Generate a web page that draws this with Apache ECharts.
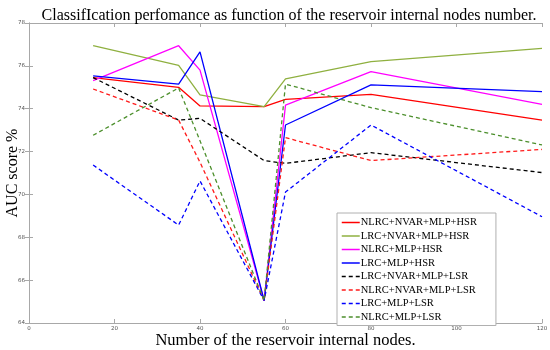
<!DOCTYPE html>
<html>
<head>
<meta charset="utf-8">
<script src="https://cdn.jsdelivr.net/npm/echarts@6/dist/echarts.min.js"></script>
<style>
html,body{margin:0;padding:0;background:#fff;}
#chart{width:550px;height:350px;}
</style>
</head>
<body>
<div id="chart"></div>
<script>
var xNodes = [15, 35, 40, 55, 60, 80, 120];
var xTicks = [0, 20, 40, 60, 80, 100, 120];
var yTicks = [64, 66, 68, 70, 72, 74, 76, 78];

var seriesNames = [
  'NLRC+NVAR+MLP+HSR',
  'LRC+NVAR+MLP+HSR',
  'NLRC+MLP+HSR',
  'LRC+MLP+HSR',
  'LRC+NVAR+MLP+LSR',
  'NLRC+NVAR+MLP+LSR',
  'LRC+MLP+LSR',
  'NLRC+MLP+LSR'
];
var nlrcNvarHsr = [75.45, 75.0, 74.13, 74.1, 74.44, 74.67, 73.47];
var lrcNvarHsr  = [76.94, 76.02, 74.65, 74.1, 75.39, 76.2, 76.82];
var nlrcHsr     = [75.31, 76.94, 75.8, 65.05, 74.17, 75.73, 74.2];
var lrcHsr      = [75.53, 75.15, 76.65, 65.05, 73.24, 75.11, 74.8];
var lrcNvarLsr  = [75.45, 73.47, 73.55, 71.58, 71.45, 71.95, 71.02];
var nlrcNvarLsr = [74.92, 73.47, 71.5, 65.05, 72.65, 71.58, 72.1];
var lrcLsr      = [71.37, 68.57, 70.63, 65.05, 70.11, 73.24, 68.96];
var nlrcLsr     = [72.76, 74.97, 72.5, 65.05, 75.15, 74.05, 72.31];

var allValues = [nlrcNvarHsr, lrcNvarHsr, nlrcHsr, lrcHsr, lrcNvarLsr, nlrcNvarLsr, lrcLsr, nlrcLsr];
var colors = ['#ff0000', '#8fb040', '#ff00ff', '#0000ff', '#000000', '#ff1a1a', '#0000ff', '#4c8f2c'];
var dashed = [false, false, false, false, true, true, true, true];

var serif = '"Liberation Serif", "Times New Roman", serif';
var axisGray = '#a8a8a8';

function pairs(vals) {
  return xNodes.map(function (x, i) { return [x, vals[i]]; });
}

var series = seriesNames.map(function (name, i) {
  return {
    name: name,
    type: 'line',
    data: pairs(allValues[i]),
    symbol: 'none',
    showSymbol: false,
    smooth: false,
    animation: false,
    color: colors[i],
    lineStyle: {
      color: colors[i],
      width: 1.3,
      type: dashed[i] ? [4, 3] : 'solid'
    },
    xAxisIndex: 0,
    yAxisIndex: 0
  };
});

var chart = echarts.init(document.getElementById('chart'), null, {renderer: 'canvas'});
chart.setOption({
  animation: false,
  backgroundColor: '#fff',
  title: {
    text: 'ClassifIcation perfomance as function of the reservoir internal nodes number.',
    left: 284,
    textAlign: 'center',
    top: 3,
    textStyle: {fontFamily: serif, fontSize: 16, fontWeight: 'normal', color: '#000'}
  },
  grid: {left: 29, right: 8, top: 23, bottom: 27, containLabel: false, outerBoundsMode: 'none'},
  legend: {
    orient: 'vertical',
    left: 337,
    top: 213,
    data: seriesNames,
    itemWidth: 18,
    itemHeight: 10,
    itemGap: 2.5,
    padding: [4, 19, 3, 4],
    backgroundColor: '#fff',
    borderColor: '#b0b0b0',
    borderWidth: 1,
    itemStyle: {opacity: 0},
    lineStyle: {width: 1.5},
    textStyle: {fontFamily: serif, fontSize: 10.5, color: '#000', padding: [0, 0, 0, -4]}
  },
  xAxis: [{
    type: 'value',
    min: 0, max: 120, interval: 20,
    position: 'bottom',
    name: 'Number of the reservoir internal nodes.',
    nameLocation: 'middle',
    nameGap: 9,
    nameMoveOverlap: false,
    nameTextStyle: {fontFamily: serif, fontSize: 16.5, color: '#000', verticalAlign: 'top'},
    axisLine: {show: true, lineStyle: {color: axisGray, width: 1}},
    axisTick: {show: true, inside: true, length: 4, lineStyle: {color: axisGray}},
    axisLabel: {fontSize: 5.5, color: '#555', margin: 3, fontFamily: 'DejaVu Sans'},
    splitLine: {show: false}
  }, {
    type: 'value',
    min: 0, max: 120, interval: 20,
    position: 'top',
    axisLine: {show: true, lineStyle: {color: axisGray, width: 1}},
    axisTick: {show: true, inside: true, length: 4, lineStyle: {color: axisGray}},
    axisLabel: {show: false},
    splitLine: {show: false}
  }],
  yAxis: [{
    type: 'value',
    min: 64, max: 78, interval: 2,
    position: 'left',
    name: 'AUC score %',
    nameLocation: 'middle',
    nameGap: 16,
    nameMoveOverlap: false,
    nameTextStyle: {fontFamily: serif, fontSize: 16, color: '#000', verticalAlign: 'middle'},
    axisLine: {show: true, lineStyle: {color: axisGray, width: 1}},
    axisTick: {show: true, inside: true, length: 4, lineStyle: {color: axisGray}},
    axisLabel: {fontSize: 5.5, color: '#555', margin: 4, fontFamily: 'DejaVu Sans'},
    splitLine: {show: false}
  }, {
    type: 'value',
    min: 64, max: 78, interval: 2,
    position: 'right',
    axisLine: {show: true, lineStyle: {color: axisGray, width: 1}},
    axisTick: {show: true, inside: true, length: 4, lineStyle: {color: axisGray}},
    axisLabel: {show: false},
    splitLine: {show: false}
  }],
  series: series
});
</script>
</body>
</html>
